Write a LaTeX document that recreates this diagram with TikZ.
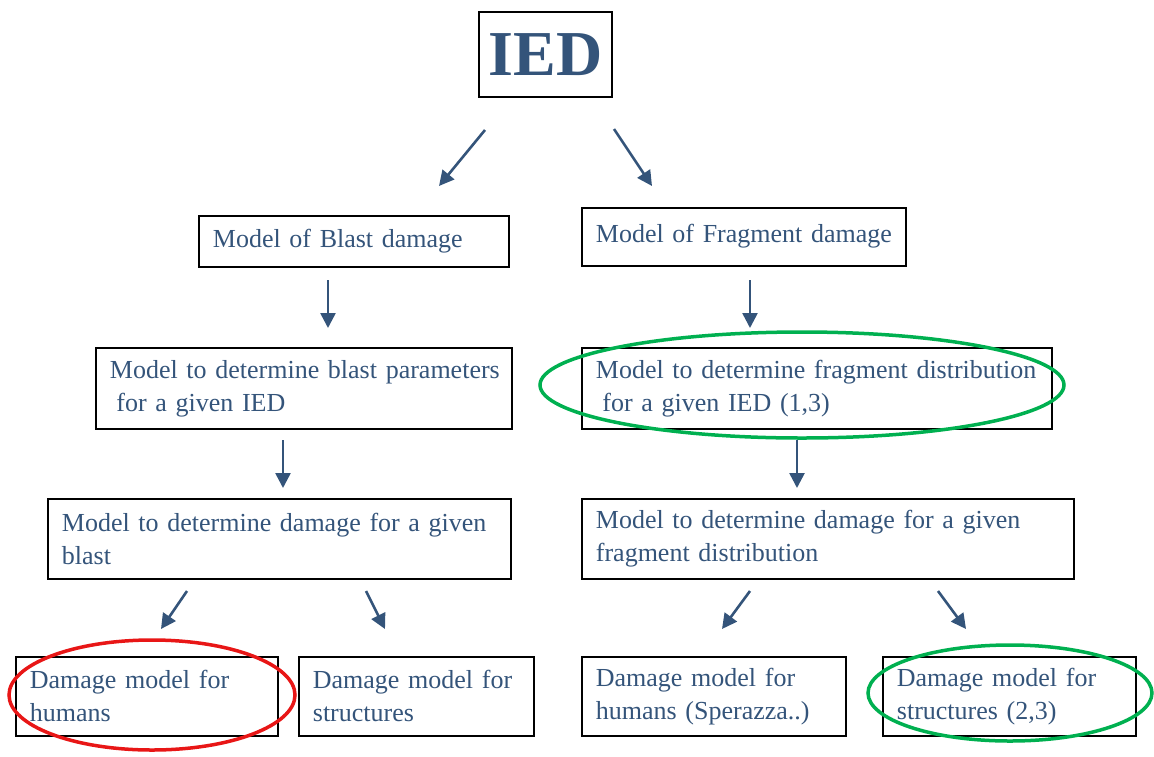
\documentclass[tikz,border=0pt]{standalone}
\usepackage{fontspec}
\setmainfont{Liberation Serif}[WordSpace=0.85]
\usetikzlibrary{arrows.meta}
\definecolor{txtblue}{RGB}{52,84,122}
\definecolor{arrblue}{RGB}{52,84,122}
\definecolor{ogreen}{RGB}{0,176,80}
\definecolor{ored}{RGB}{232,22,22}
\tikzset{
  boxnode/.style={draw=black, line width=1.8pt, text=txtblue, align=left,
    inner xsep=14pt, inner ysep=2pt, anchor=north west,
    font=\fontsize{26}{33}\selectfont},
  conn/.style={draw=arrblue, line width=2.6pt, -{Triangle[length=15pt,width=15pt]}},
  ring/.style={line width=3.5pt},
}
\begin{document}
\begin{tikzpicture}[x=1pt,y=-1pt]
\useasboundingbox (0,0) rectangle (1154,756);
% IED
\node[draw=black, line width=1.8pt, text=txtblue, minimum width=133pt, minimum height=85pt,
  font=\fontsize{64}{64}\bfseries\selectfont, inner sep=0pt] (ied) at (545.5,54.5) {IED};
% row 1
\node[boxnode, text width=282pt, minimum height=51pt] (blast) at (198,215) {\mbox{Model of Blast damage}};
\node[boxnode, text width=296pt, minimum height=58pt] (frag) at (581,207) {\mbox{Model of Fragment damage}\\[-25pt]\mbox{}};
% row 2
\node[boxnode, text width=388pt, minimum height=81pt] (bparam) at (95,347) {\mbox{Model to determine blast parameters}\\\mbox{\hspace*{0.25em}for a given IED}};
\node[boxnode, text width=442pt, minimum height=81pt] (fdist) at (581,347) {\mbox{Model to determine fragment distribution}\\\mbox{\hspace*{0.25em}for a given IED (1,3)}};
% row 3
\node[boxnode, text width=435pt, minimum height=80pt] (bdmg) at (47,498) {\mbox{Model to determine damage for a given}\\\mbox{blast}};
\node[boxnode, text width=464pt, minimum height=80pt] (fdmg) at (581,498) {\mbox{Model to determine damage for a given}\\\mbox{fragment distribution}};
% row 4
\node[boxnode, text width=234pt, minimum height=79pt] (h1) at (15,656) {\mbox{Damage model for}\\\mbox{humans}};
\node[boxnode, text width=207pt, minimum height=79pt] (s1) at (298,656) {\mbox{Damage model for}\\\mbox{structures}};
\node[boxnode, text width=236pt, minimum height=79pt] (h2) at (581,656) {\mbox{Damage model for}\\\mbox{humans (Sperazza..)}};
\node[boxnode, text width=225pt, minimum height=79pt] (s2) at (882,656) {\mbox{Damage model for}\\\mbox{structures (2,3)}};
% arrow end points
\coordinate (a1s) at (485,130); \coordinate (a1e) at (439,186);
\coordinate (a2s) at (614,129); \coordinate (a2e) at (652,186);
\coordinate (a3s) at (328,280); \coordinate (a3e) at (328,328);
\coordinate (a4s) at (750,280); \coordinate (a4e) at (750,328);
\coordinate (a5s) at (283,440); \coordinate (a5e) at (283,488);
\coordinate (a6s) at (797,440); \coordinate (a6e) at (797,488);
\coordinate (a7s) at (187,591); \coordinate (a7e) at (161,629);
\coordinate (a8s) at (366,591); \coordinate (a8e) at (385,629);
\coordinate (a9s) at (750,591); \coordinate (a9e) at (722,629);
\coordinate (a10s) at (938,591); \coordinate (a10e) at (966,629);
\foreach \i in {1,...,10} {\draw[conn] (a\i s) -- (a\i e);}
% highlight ellipses
\draw[ring, ogreen] (802,385) ellipse [x radius=262pt, y radius=53pt];
\draw[ring, ored] (152,695) ellipse [x radius=143pt, y radius=55pt];
\draw[ring, ogreen] (1010,693) ellipse [x radius=142pt, y radius=48pt];
\end{tikzpicture}
\end{document}
